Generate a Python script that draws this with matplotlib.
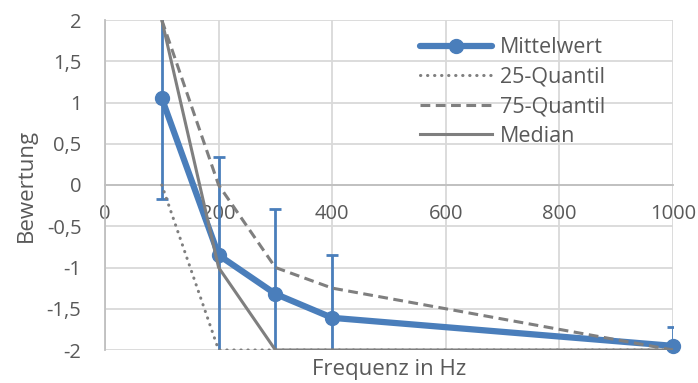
import matplotlib
matplotlib.use("Agg")
import matplotlib.pyplot as plt
from matplotlib.ticker import FixedLocator, FixedFormatter

# Data
freq = [100, 200, 300, 400, 1000]
mittelwert = [1.05, -0.85, -1.32, -1.61, -1.95]
mittel_err = [1.22, 1.19, 1.03, 0.76, 0.23]
q25 = [0.0, -2.0, -2.0, -2.0, -2.0]
q75 = [2.0, 0.0, -1.0, -1.25, -2.0]
median = [2.0, -1.0, -2.0, -2.0, -2.0]

xticks = [0, 200, 400, 600, 800, 1000]
xticklabels = ["0", "200", "400", "600", "800", "1000"]
yticks = [-2, -1.5, -1, -0.5, 0, 0.5, 1, 1.5, 2]
yticklabels = ["-2", "-1,5", "-1", "-0,5", "0", "0,5", "1", "1,5", "2"]

plt.rcParams['font.family'] = ['Open Sans', 'DejaVu Sans']
txt = '#595959'
blue = '#4a7ebb'
gray = '#7f7f7f'
grid = '#d9d9d9'
fs_tick = 14.5
fs_leg = 15.5
fs_lab = 16

fig = plt.figure(figsize=(6.98, 3.83), dpi=100)
ax = fig.add_axes([105/698, 1-350/383, (673-105)/698, (350-20)/383])

ax.set_xlim(0, 1000)
ax.set_ylim(-2, 2)

ax.xaxis.set_major_locator(FixedLocator(xticks))
ax.xaxis.set_major_formatter(FixedFormatter(xticklabels))
ax.yaxis.set_major_locator(FixedLocator(yticks))
ax.yaxis.set_major_formatter(FixedFormatter(yticklabels))

ax.grid(True, color=grid, linewidth=1.3, zorder=0)
ax.set_axisbelow(True)

for s in ['top', 'right']:
    ax.spines[s].set_visible(False)
ax.spines['bottom'].set_position(('data', 0))
ax.spines['bottom'].set_color('#bfbfbf')
ax.spines['left'].set_color('#bfbfbf')
ax.spines['bottom'].set_linewidth(1.3)
ax.spines['left'].set_linewidth(1.3)

ax.tick_params(axis='x', length=0, pad=14, labelsize=fs_tick, labelcolor=txt)
ax.tick_params(axis='y', length=0, pad=17, labelsize=fs_tick, labelcolor=txt)

ax.plot(freq, mittelwert, color=blue, linewidth=4.5, marker='o', markersize=10,
        label='Mittelwert', zorder=3, clip_on=False, solid_capstyle='round')
ax.errorbar(freq, mittelwert, yerr=mittel_err, fmt='none', ecolor=blue,
            elinewidth=2, capsize=4.5, capthick=2, zorder=3)
ax.plot(freq, q25, color=gray, linewidth=2.2, linestyle=(0, (0.1, 2.2)),
        dash_capstyle='round', label='25-Quantil', zorder=4)
ax.plot(freq, q75, color=gray, linewidth=2.2, linestyle=(0, (3.2, 1.8)),
        label='75-Quantil', zorder=4)
ax.plot(freq, median, color=gray, linewidth=2.2, label='Median', zorder=4)

leg = ax.legend(loc='upper left', bbox_to_anchor=((420-105)/568, 0.948), frameon=False,
                fontsize=fs_leg, handlelength=3.35, handletextpad=0.37,
                labelspacing=0.4, labelcolor=txt, borderpad=0, borderaxespad=0)

ax.set_ylabel('Bewertung', fontsize=fs_lab, color=txt)
ax.yaxis.set_label_coords(-(105-37)/568, 0.5)
ax.set_xlabel('Frequenz in Hz', fontsize=fs_lab, color=txt)
ax.xaxis.set_label_coords(0.5, -(369-350)/330)
ax.xaxis.label.set_va('center')

fig.savefig('out.png', dpi=100)
